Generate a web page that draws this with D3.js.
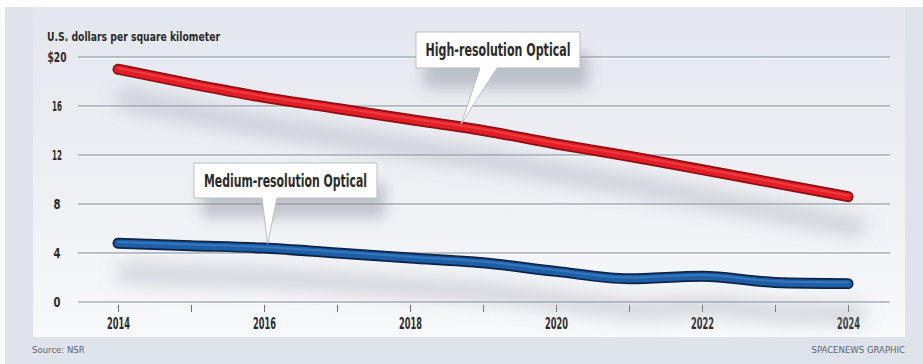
<!DOCTYPE html>
<html>
<head>
<meta charset="utf-8">
<script src="https://cdn.jsdelivr.net/npm/d3@7"></script>
<style>
  html, body { margin: 0; padding: 0; background: #ffffff; }
  svg { display: block; }
  .cond { font-family: "Liberation Sans Narrow", "DejaVu Sans Condensed", "Roboto", sans-serif; font-weight: bold; }
  .foot { font-family: "Liberation Sans Narrow", "DejaVu Sans Condensed", "Roboto", sans-serif; font-weight: normal; }
</style>
</head>
<body>
<svg id="chart" width="923" height="364"></svg>
<script>
// Image cost per square kilometre, 2014-2024 (NSR)
const years = [2014, 2015, 2016, 2017, 2018, 2019, 2020, 2021, 2022, 2023, 2024];
const highRes = [19.0, 17.8, 16.7, 15.8, 14.9, 14.0, 12.9, 11.9, 10.8, 9.7, 8.6];
const mediumRes = [4.8, 4.6, 4.4, 4.0, 3.6, 3.2, 2.5, 1.9, 2.1, 1.6, 1.5];
const yTicks = [0, 4, 8, 12, 16, 20];
const xTickLabels = [2014, 2016, 2018, 2020, 2022, 2024];
const seriesNames = ["High-resolution Optical", "Medium-resolution Optical"];

const W = 923, H = 364;
const svg = d3.select("#chart");
const defs = svg.append("defs");

// Backgrounds
const grad = defs.append("linearGradient").attr("id", "panelGrad")
  .attr("x1", 0).attr("y1", 0).attr("x2", 0).attr("y2", 1);
grad.append("stop").attr("offset", "0%").attr("stop-color", "#e4e7ee");
grad.append("stop").attr("offset", "55%").attr("stop-color", "#eef0f4");
grad.append("stop").attr("offset", "100%").attr("stop-color", "#f8f9fb");

defs.append("filter").attr("id", "softShadow")
  .attr("x", "-20%").attr("y", "-150%").attr("width", "140%").attr("height", "400%")
  .append("feGaussianBlur").attr("stdDeviation", 9);
defs.append("filter").attr("id", "boxShadow")
  .attr("x", "-30%").attr("y", "-60%").attr("width", "160%").attr("height", "260%")
  .append("feGaussianBlur").attr("stdDeviation", 7);

svg.append("rect").attr("x", 0).attr("y", 0).attr("width", W).attr("height", H).attr("fill", "#ffffff");
svg.append("rect").attr("x", 5).attr("y", 7).attr("width", W - 5).attr("height", H - 7).attr("fill", "#dfe3ec");
svg.append("rect").attr("x", 33).attr("y", 7).attr("width", 872).attr("height", 330).attr("fill", "url(#panelGrad)");

// Scales
const x = d3.scaleLinear().domain([2014, 2024]).range([118, 848]);
const y = d3.scaleLinear().domain([0, 20]).range([302, 57]);

// Gridlines
const grid = svg.append("g");
grid.selectAll("line.g").data(yTicks).join("line")
  .attr("x1", 78).attr("x2", 890)
  .attr("y1", d => y(d)).attr("y2", d => y(d))
  .attr("stroke", "#a9aeb6").attr("stroke-width", 1.6);
grid.selectAll("line.h").data(yTicks).join("line")
  .attr("x1", 78).attr("x2", 890)
  .attr("y1", d => y(d) + 1.5).attr("y2", d => y(d) + 1.5)
  .attr("stroke", "#ffffff").attr("stroke-opacity", 0.7).attr("stroke-width", 1);

// Y tick labels
const fmtY = d => d === 20 ? "$20" : String(d);
svg.append("g").selectAll("text").data(yTicks).join("text")
  .attr("class", "cond")
  .attr("x", 57).attr("y", d => y(d) + 5)
  .attr("text-anchor", "middle")
  .attr("font-size", 14).attr("fill", "#2b2b2b")
  .text(fmtY)
  .each(function(d) {
    const w = d === 20 ? 19 : (d >= 10 ? 10 : 7);
    d3.select(this).attr("textLength", w).attr("lengthAdjust", "spacingAndGlyphs");
  });

// Axis title
svg.append("text").attr("class", "cond")
  .attr("x", 47).attr("y", 41)
  .attr("font-size", 13).attr("fill", "#2b2b2b")
  .attr("textLength", 173).attr("lengthAdjust", "spacingAndGlyphs")
  .text("U.S. dollars per square kilometer");

// X axis: yearly ticks, labels every two years
const xAxis = d3.axisBottom(x)
  .tickValues(years)
  .tickSize(7)
  .tickPadding(8)
  .tickFormat(d => xTickLabels.includes(d) ? String(d) : "");
const xg = svg.append("g").attr("transform", `translate(0,${y(0) + 3})`).call(xAxis);
xg.select(".domain").remove();
xg.selectAll(".tick line").attr("stroke", "#6d7077").attr("stroke-width", 1);
xg.selectAll(".tick text")
  .attr("class", "cond")
  .attr("font-size", 15).attr("fill", "#2b2b2b")
  .attr("dy", "0.6em")
  .each(function() {
    if (d3.select(this).text()) d3.select(this).attr("textLength", 23).attr("lengthAdjust", "spacingAndGlyphs");
  });

// Lines
const line = d3.line()
  .x((d, i) => x(years[i]))
  .y(d => y(d))
  .curve(d3.curveMonotoneX);

const series = [
  { values: highRes, edge: "#8e0e12", main: "#e41e26", hi: "#f5545a" },
  { values: mediumRes, edge: "#0b2446", main: "#1d5ea6", hi: "#4a8ad0" }
];

// soft drop shadows below each line
series.forEach(s => {
  svg.append("path")
    .attr("d", line(s.values))
    .attr("transform", "translate(8,30)")
    .attr("fill", "none").attr("stroke", "#9aa0aa").attr("stroke-opacity", 0.38)
    .attr("stroke-width", 20).attr("stroke-linecap", "round")
    .attr("filter", "url(#softShadow)");
});

// Callouts
const callouts = [
  { text: seriesNames[0], box: [416, 32, 164, 36], base: [480, 497], tip: [2018.7, 14.5], tw: 145, fs: 18 },
  { text: seriesNames[1], box: [194, 163, 183, 35], base: [262, 277], tip: [2016.05, 4.75], tw: 163, fs: 17 }
];

callouts.forEach(c => {
  const [bx, by, bw, bh] = c.box;
  svg.append("rect").attr("x", bx + 8).attr("y", by + 20).attr("width", bw).attr("height", bh)
    .attr("fill", "#7d838e").attr("opacity", 0.4).attr("filter", "url(#boxShadow)");
});

series.forEach(s => {
  const d = line(s.values);
  svg.append("path").attr("d", d).attr("fill", "none")
    .attr("stroke", s.edge).attr("stroke-width", 11).attr("stroke-linecap", "round").attr("stroke-linejoin", "round");
  svg.append("path").attr("d", d).attr("fill", "none")
    .attr("stroke", s.main).attr("stroke-width", 7.5).attr("stroke-linecap", "round").attr("stroke-linejoin", "round");
  svg.append("path").attr("d", d).attr("fill", "none")
    .attr("transform", "translate(0,-1.2)")
    .attr("stroke", s.hi).attr("stroke-opacity", 0.55).attr("stroke-width", 2).attr("stroke-linecap", "round");
});

callouts.forEach(c => {
  const [bx, by, bw, bh] = c.box;
  const tx = x(c.tip[0]), ty = y(c.tip[1]);
  const p = d3.path();
  p.moveTo(bx, by);
  p.lineTo(bx + bw, by);
  p.lineTo(bx + bw, by + bh);
  p.lineTo(c.base[1], by + bh);
  p.lineTo(tx, ty);
  p.lineTo(c.base[0], by + bh);
  p.lineTo(bx, by + bh);
  p.closePath();
  svg.append("path").attr("d", p.toString())
    .attr("fill", "#ffffff").attr("stroke", "#b9bdc4").attr("stroke-width", 1).attr("stroke-linejoin", "miter");
  svg.append("text").attr("class", "cond")
    .attr("x", bx + bw / 2).attr("y", by + bh / 2 + c.fs * 0.36)
    .attr("text-anchor", "middle")
    .attr("font-size", c.fs).attr("fill", "#2b2b2b")
    .attr("textLength", c.tw).attr("lengthAdjust", "spacingAndGlyphs")
    .text(c.text);
});

// Footer
svg.append("text").attr("class", "foot")
  .attr("x", 32).attr("y", 353)
  .attr("font-size", 9.5).attr("fill", "#5e636b")
  .text("Source: NSR");
svg.append("text").attr("class", "foot")
  .attr("x", 905).attr("y", 353)
  .attr("text-anchor", "end")
  .attr("font-size", 9.5).attr("fill", "#5e636b")
  .text("SPACENEWS GRAPHIC");
</script>
</body>
</html>
